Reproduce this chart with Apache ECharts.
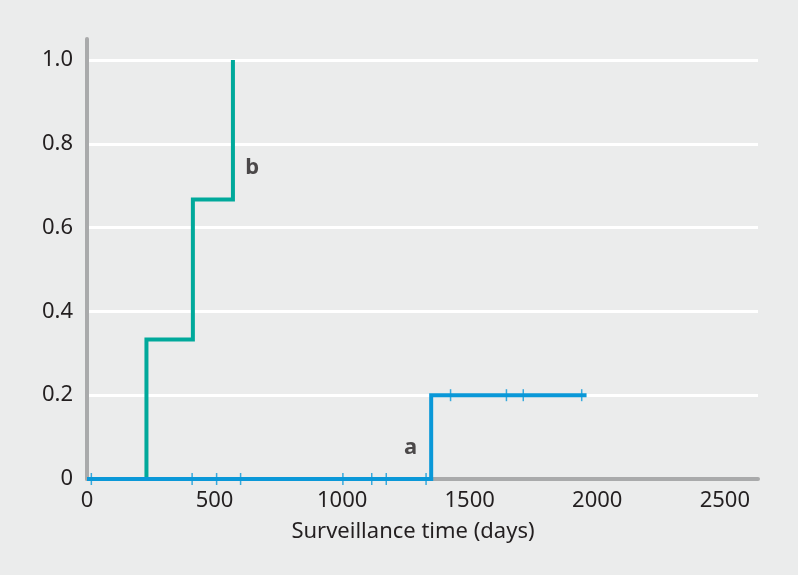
<!DOCTYPE html>
<html>
<head>
<meta charset="utf-8">
<script src="https://cdn.jsdelivr.net/npm/echarts@6/dist/echarts.min.js"></script>
<style>
  html, body { margin: 0; padding: 0; background: #ebecec; }
  #chart { width: 798px; height: 575px; }
</style>
</head>
<body>
<div id="chart"></div>
<script>
// curve b: step points (days, cumulative proportion)
const curveB = [[0, 0], [233, 0.333], [415, 0.667], [572, 1.0]];
// curve a
const curveA = [[0, 0], [1349, 0.2], [1958, 0.2]];
// censored observations on curve a
const censorA = [
  [17, 0], [412, 0], [508, 0], [602, 0], [1003, 0], [1116, 0], [1173, 0], [1329, 0],
  [1425, 0.2], [1644, 0.2], [1710, 0.2], [1939, 0.2]
];
const curveLabels = [["a", 1268, 0.074], ["b", 648, 0.743]];
const xTicks = [0, 500, 1000, 1500, 2000, 2500];

const font = "'Noto Sans', 'Open Sans', sans-serif";
const textColor = "#231f20";
const blue = "#0a98d8";
const teal = "#00a99b";

let chart = echarts.init(document.getElementById("chart"));
chart.setOption({
  backgroundColor: "#ebecec",
  animation: false,
  grid: {
    left: 87,
    right: 40,
    top: 39,
    bottom: 96
  },
  xAxis: {
    type: "value",
    min: 0,
    max: 2630,
    interval: 500,
    name: "Surveillance time (days)",
    nameLocation: "middle",
    nameGap: 42,
    nameTextStyle: { fontFamily: font, fontSize: 22, color: textColor, padding: [0, 19, 0, 0] },
    axisLine: { show: true, lineStyle: { color: "#a9aaab", width: 4 } },
    axisTick: { show: false },
    splitLine: { show: false },
    axisLabel: {
      showMaxLabel: false,
      fontFamily: font,
      fontSize: 22,
      color: textColor,
      margin: 11,
      formatter: v => (xTicks.indexOf(v) >= 0 ? String(v) : "")
    }
  },
  yAxis: {
    type: "value",
    min: 0,
    max: 1.05,
    interval: 0.2,
    axisLine: { show: true, lineStyle: { color: "#a9aaab", width: 4 } },
    axisTick: { show: false },
    splitLine: {
      show: true,
      lineStyle: {
        color: ["#ffffff", "#ffffff", "#ffffff", "#ffffff", "#ffffff", "#ffffff", "rgba(0,0,0,0)"],
        width: 3
      }
    },
    axisLabel: {
      showMaxLabel: false,
      fontFamily: font,
      fontSize: 22,
      color: textColor,
      margin: 14,
      formatter: v => (v === 0 ? "0" : v.toFixed(1))
    }
  },
  series: [
    {
      type: "line",
      step: "end",
      data: curveB,
      showSymbol: false,
      z: 2,
      lineStyle: { color: teal, width: 4, cap: "butt", join: "miter" }
    },
    {
      type: "line",
      step: "end",
      data: curveA,
      showSymbol: false,
      z: 3,
      lineStyle: { color: blue, width: 4, cap: "butt", join: "miter" }
    },
    {
      type: "scatter",
      data: censorA,
      symbol: "rect",
      symbolSize: [1.5, 12],
      z: 4,
      itemStyle: { color: blue }
    },
    {
      type: "scatter",
      data: curveLabels.map(d => ({ value: [d[1], d[2]], name: d[0] })),
      symbolSize: 0,
      z: 5,
      label: {
        show: true,
        position: "inside",
        formatter: p => p.name,
        fontFamily: font,
        fontSize: 22,
        fontWeight: "bold",
        color: textColor
      }
    }
  ]
});
</script>
</body>
</html>
